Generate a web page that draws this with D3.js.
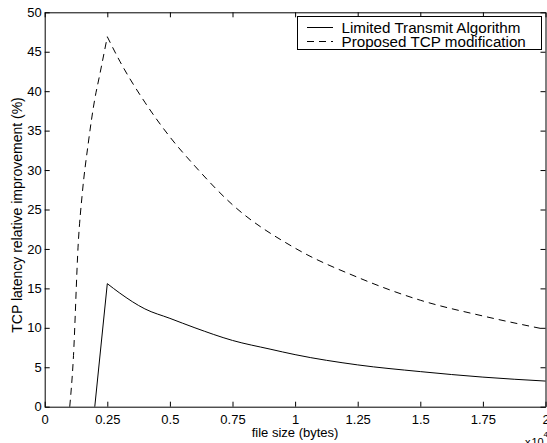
<!DOCTYPE html>
<html>
<head>
<meta charset="utf-8">
<script src="https://cdn.jsdelivr.net/npm/d3@7"></script>
<style>
  html, body { margin: 0; padding: 0; background: #fff; }
  svg { display: block; }
  text { font-family: "Liberation Sans", Arial, Helvetica, sans-serif; fill: #000; }
</style>
</head>
<body>
<svg id="chart" width="547" height="443"></svg>
<script>
// File size (x 10^4 bytes) and relative latency improvement (%)
const limitedX = [0.2, 0.25, 0.3, 0.4, 0.5, 0.6, 0.75, 0.9, 1.0, 1.25, 1.5, 1.75, 2.0];
const limitedY = [0, 15.6, 14.4, 12.4, 11.2, 10.0, 8.4, 7.3, 6.6, 5.3, 4.45, 3.75, 3.25];

const proposedX = [0.1, 0.114, 0.134, 0.15, 0.174, 0.2, 0.218, 0.25, 0.3, 0.4, 0.5, 0.6, 0.75, 1.0, 1.25, 1.5, 1.75, 2.0];
const proposedY = [0, 5.9, 20.7, 27.0, 33.4, 39.0, 41.8, 46.9, 43.8, 38.6, 34.2, 30.5, 25.6, 20.1, 16.4, 13.5, 11.5, 9.8];

const xTicks = [0, 0.25, 0.5, 0.75, 1, 1.25, 1.5, 1.75, 2];
const xTickLabels = ["0", "0.25", "0.5", "0.75", "1", "1.25", "1.5", "1.75", "2"];
const yTicks = [0, 5, 10, 15, 20, 25, 30, 35, 40, 45, 50];

const seriesNames = ["Limited Transmit Algorithm", "Proposed TCP modification"];

const svg = d3.select("#chart");
const plotL = 44.7, plotR = 545.5, plotT = 12.3, plotB = 406.7;

const x = d3.scaleLinear().domain([0, 2]).range([plotL, plotR]);
const y = d3.scaleLinear().domain([0, 50]).range([plotB, plotT]);

const fontSize = 13;
const tickLen = 5;

// Axes with inward ticks on all four sides
const g = svg.append("g");

const xAxisB = d3.axisBottom(x).tickValues(xTicks).tickFormat((d, i) => xTickLabels[i])
  .tickSizeInner(-tickLen).tickSizeOuter(0).tickPadding(8);
const xAxisT = d3.axisTop(x).tickValues(xTicks).tickFormat("")
  .tickSizeInner(-tickLen).tickSizeOuter(0);
const yAxisL = d3.axisLeft(y).tickValues(yTicks).tickFormat(d3.format("d"))
  .tickSizeInner(-tickLen).tickSizeOuter(0).tickPadding(3);
const yAxisR = d3.axisRight(y).tickValues(yTicks).tickFormat("")
  .tickSizeInner(-tickLen).tickSizeOuter(0);

function styleAxis(sel) {
  sel.selectAll("path").attr("stroke", "#000").attr("stroke-width", 1);
  sel.selectAll("line").attr("stroke", "#000").attr("stroke-width", 1);
  sel.selectAll("text").attr("font-size", fontSize)
    .attr("font-family", "'Liberation Sans', Arial, sans-serif").attr("fill", "#000");
}

g.append("g").attr("transform", `translate(0,${plotB})`).call(xAxisB).call(styleAxis);
g.append("g").attr("transform", `translate(0,${plotT})`).call(xAxisT).call(styleAxis);
g.append("g").attr("transform", `translate(${plotL},0)`).call(yAxisL).call(styleAxis);
g.append("g").attr("transform", `translate(${plotR},0)`).call(yAxisR).call(styleAxis);

// Series lines: smooth on each side of the peak, sharp corner at the peak
function pathWithPeak(xs, ys, smoothRise) {
  const pts = xs.map((v, i) => [v, ys[i]]);
  const k = ys.indexOf(d3.max(ys));
  const rise = pts.slice(0, k + 1);
  const fall = pts.slice(k);
  const riseLine = d3.line().x(d => x(d[0])).y(d => y(d[1]))
    .curve(smoothRise ? d3.curveMonotoneX : d3.curveLinear);
  const fallLine = d3.line().x(d => x(d[0])).y(d => y(d[1])).curve(d3.curveMonotoneX);
  return riseLine(rise) + "L" + fallLine(fall).slice(1);
}

svg.append("path").attr("d", pathWithPeak(limitedX, limitedY, false))
  .attr("fill", "none").attr("stroke", "#000").attr("stroke-width", 1);
svg.append("path").attr("d", pathWithPeak(proposedX, proposedY, true))
  .attr("fill", "none").attr("stroke", "#000").attr("stroke-width", 1)
  .attr("stroke-dasharray", "7,5");

// Axis titles
svg.append("text").attr("x", (plotL + plotR) / 2).attr("y", 436.5)
  .attr("text-anchor", "middle").attr("font-size", fontSize).text("file size (bytes)");

svg.append("text")
  .attr("transform", `translate(22,215) rotate(-90)`)
  .attr("text-anchor", "middle").attr("font-size", 14)
  .text("TCP latency relative improvement (%)");

// Exponent label for the x axis
const expo = svg.append("text").attr("y", 446).attr("font-size", 11);
expo.append("tspan").attr("x", 525).text("x");
expo.append("tspan").attr("x", 531.5).text("10");
svg.append("text").attr("x", 543.5).attr("y", 437).attr("font-size", 8).text("4");

// Legend
const lg = svg.append("g");
lg.append("rect").attr("x", 297.5).attr("y", 16.5).attr("width", 244).attr("height", 33)
  .attr("fill", "#fff").attr("stroke", "#000").attr("stroke-width", 1);
const rows = [
  { name: seriesNames[0], dash: null, cy: 27.5, base: 32.6 },
  { name: seriesNames[1], dash: "7,5", cy: 41.5, base: 46.6 }
];
rows.forEach(r => {
  lg.append("line").attr("x1", 307).attr("x2", 333).attr("y1", r.cy).attr("y2", r.cy)
    .attr("stroke", "#000").attr("stroke-width", 1)
    .attr("stroke-dasharray", r.dash);
  lg.append("text").attr("x", 341.5).attr("y", r.base)
    .attr("font-size", 15.2).text(r.name);
});
</script>
</body>
</html>
